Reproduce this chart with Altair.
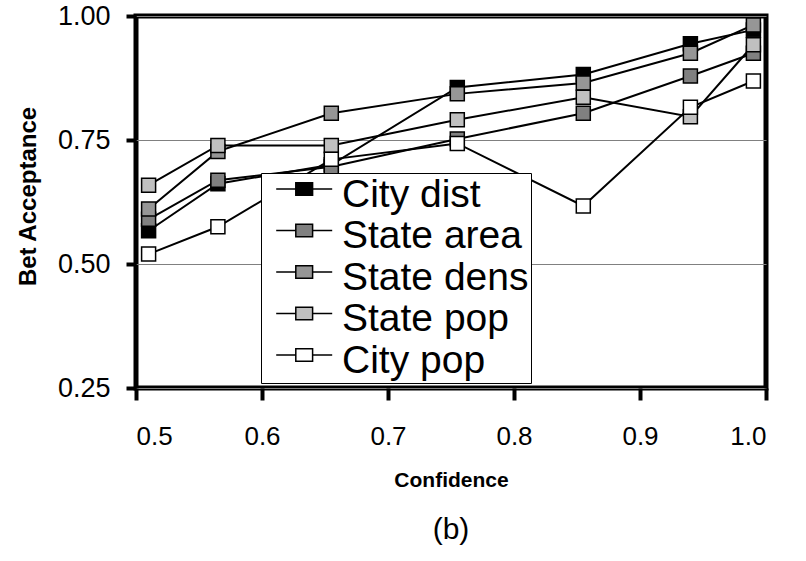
import altair as alt
import pandas as pd

# Confidence bins (x) and bet acceptance rate per question type (y)
confidence = [0.51, 0.565, 0.655, 0.755, 0.855, 0.94, 0.99]
series_names = ["City dist", "State area", "State dens", "State pop", "City pop"]
city_dist = [0.567, 0.662, 0.700, 0.856, 0.882, 0.944, 0.972]
state_area = [0.590, 0.669, 0.696, 0.752, 0.804, 0.879, 0.925]
state_dens = [0.611, 0.727, 0.804, 0.843, 0.865, 0.925, 0.982]
state_pop = [0.659, 0.739, 0.739, 0.791, 0.836, 0.797, 0.942]
city_pop = [0.520, 0.575, 0.711, 0.743, 0.617, 0.816, 0.869]
fills = ["#000000", "#808080", "#969696", "#C0C0C0", "#FFFFFF"]

y_ticks = [0.25, 0.50, 0.75, 1.00]
x_ticks = [0.5, 0.6, 0.7, 0.8, 0.9, 1.0]

rows = []
for name, vals in zip(series_names, [city_dist, state_area, state_dens, state_pop, city_pop]):
    for i, (c, v) in enumerate(zip(confidence, vals)):
        rows.append({"series": name, "confidence": c, "acceptance": v, "idx": i})
df = pd.DataFrame(rows)

FONT = "Liberation Sans"

x_enc = alt.X(
    "confidence:Q",
    scale=alt.Scale(domain=[0.5, 1.0], nice=False, zero=False),
    axis=alt.Axis(
        values=x_ticks, format=".1f", title="Confidence",
        labelFontSize=26, labelFont=FONT, labelColor="black",
        tickSize=12, tickWidth=4, tickColor="black", labelPadding=23,
        domain=False, grid=False,
        titleFont=FONT, titleFontSize=21, titleFontWeight="bold", titleColor="black",
        titleY=92, titleBaseline="middle",
    ),
)
y_enc = alt.Y(
    "acceptance:Q",
    scale=alt.Scale(domain=[0.25, 1.0], nice=False, zero=False),
    axis=alt.Axis(
        values=y_ticks, format=".2f", title="Bet Acceptance",
        labelFontSize=27, labelFont=FONT, labelColor="black",
        tickSize=10, tickWidth=4, tickColor="black", labelPadding=16,
        domain=False, grid=True, gridColor="#808080", gridWidth=1,
        titleFont=FONT, titleFontSize=24, titleFontWeight="bold", titleColor="black",
        titleX=-108, titleY=180, titleBaseline="middle",
    ),
)

lines = alt.Chart(df).mark_line(color="black", strokeWidth=2).encode(
    x=x_enc, y=y_enc, detail="series:N", order="idx:Q"
)

# legend symbol: a short line with a small square in the middle
legend_symbol = (
    "M-0.45,-0.39H0.95M2.15,-0.39H3.55"
    "M0.95,-0.84H2.15V0.06H0.95Z"
)

points = alt.Chart(df).mark_square(
    size=196, stroke="black", strokeWidth=1.5, opacity=1
).encode(
    x=x_enc, y=y_enc,
    fill=alt.Fill(
        "series:N",
        scale=alt.Scale(domain=series_names, range=fills),
        sort=series_names,
        legend=alt.Legend(
            title=None, orient="none", legendX=125, legendY=157,
            symbolType=legend_symbol, symbolSize=784,
            symbolStrokeColor="black", symbolStrokeWidth=1.5, symbolOpacity=1,
            labelFont=FONT, labelFontSize=39, labelColor="black", labelOffset=40,
            labelExpr="datum.label + '\u00a0'",
            labelLimit=400, rowPadding=1.5, padding=2,
            fillColor="white", strokeColor="black",
        ),
    ),
)

chart = (
    alt.layer(lines, points)
    .properties(
        width=630, height=372,
        padding={"left": 136, "top": 16, "right": 40, "bottom": 173},
        autosize=alt.AutoSizeParams(type="none"),
        title=alt.Title("(b)", orient="bottom", fontSize=30, font=FONT,
                        fontWeight="normal", color="black", offset=25),
    )
    .configure(background="white")
    .configure_view(stroke="black", strokeWidth=5)
)

chart.save("out.html", embed_options={"renderer": "svg", "actions": False})
